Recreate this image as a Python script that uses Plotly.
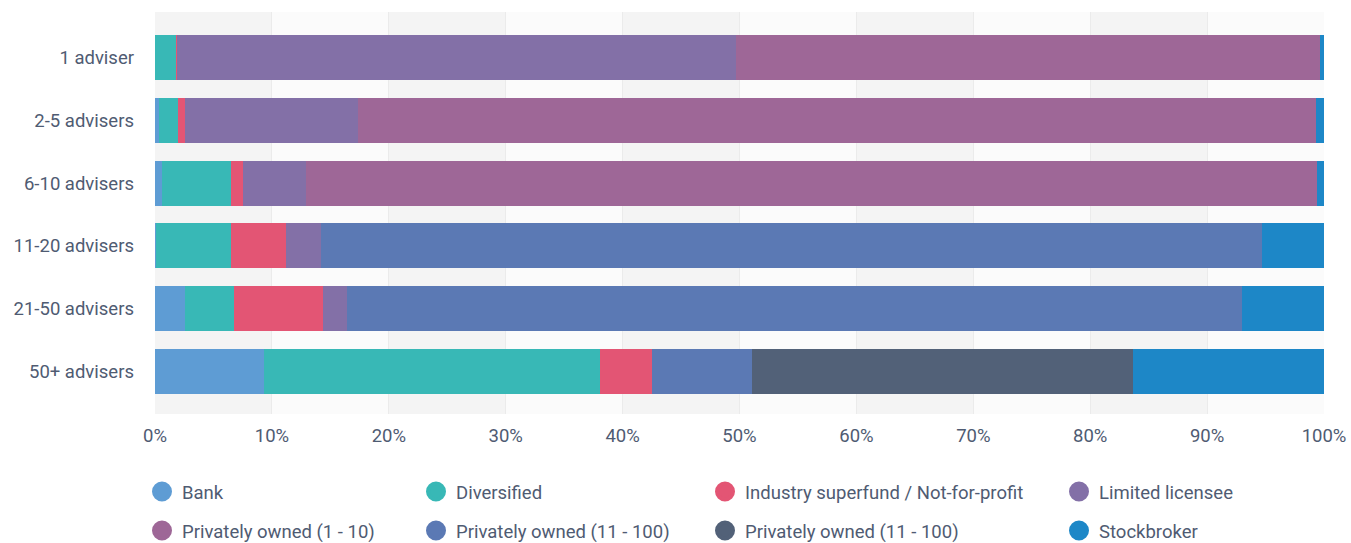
import plotly.graph_objects as go

categories = ["1 adviser", "2-5 advisers", "6-10 advisers", "11-20 advisers", "21-50 advisers", "50+ advisers"]

bank = [0.0, 0.3, 0.6, 0.1, 2.6, 9.3]
diversified = [1.8, 1.7, 5.9, 6.4, 4.2, 28.8]
industry = [0.1, 0.6, 1.0, 4.7, 7.6, 4.4]
limited = [47.8, 14.8, 5.4, 3.0, 2.0, 0.0]
po_1_10 = [50.0, 81.9, 86.5, 0.0, 0.0, 0.0]
po_11_100 = [0.0, 0.0, 0.0, 80.5, 76.6, 8.6]
po_11_100_b = [0.0, 0.0, 0.0, 0.0, 0.0, 32.6]
stockbroker = [0.3, 0.7, 0.6, 5.3, 7.0, 16.3]

series_names = ["Bank", "Diversified", "Industry superfund / Not-for-profit", "Limited licensee",
                "Privately owned (1 - 10)", "Privately owned (11 - 100)", "Privately owned (11 - 100)", "Stockbroker"]
series_values = [bank, diversified, industry, limited, po_1_10, po_11_100, po_11_100_b, stockbroker]
colors = ["#5e9cd4", "#38b8b6", "#e35574", "#8370a7", "#9e6797", "#5b79b4", "#526178", "#1d87c7"]

tick_vals = list(range(0, 101, 10))
tick_text = [f"{v}%" for v in tick_vals]

W, H = 1351, 543
ML, MR, MT, MB = 155, 27, 12, 129
plot_w = W - ML - MR
plot_h = H - MT - MB

TEXT = "#4f5b72"
FONT = "Roboto"
FS = 18.5

fig = go.Figure()
for name, vals, col in zip(series_names, series_values, colors):
    fig.add_trace(go.Bar(
        x=vals, y=categories, orientation="h", name=name,
        marker=dict(color=col, line=dict(width=0)),
        width=0.717, showlegend=False, hoverinfo="x+name",
    ))

# legend entries (circle markers), positioned in a 2x4 grid
legend_px = [(162, 492), (436, 492), (725, 492), (1079, 492),
             (162, 531), (436, 531), (725, 531), (1079, 531)]
layout_legends = {}
for i, (name, col) in enumerate(zip(series_names, colors)):
    lname = "legend" if i == 0 else f"legend{i+1}"
    fig.add_trace(go.Scatter(
        x=[None], y=[None], mode="markers", name=name, legend=lname,
        marker=dict(color=col, size=16, symbol="circle", line=dict(color=col, width=4)),
        showlegend=True, hoverinfo="skip",
    ))
    cx, cy = legend_px[i]
    layout_legends[lname] = dict(
        x=(cx - 20 - ML) / plot_w, y=(H - MB - cy) / plot_h,
        xanchor="left", yanchor="middle", orientation="v",
        bgcolor="rgba(0,0,0,0)", borderwidth=0,
        font=dict(family=FONT, size=FS, color=TEXT),
        itemclick=False, itemdoubleclick=False,
    )

shapes = []
for k in range(10):
    shapes.append(dict(
        type="rect", xref="x", yref="paper", x0=k * 10, x1=(k + 1) * 10, y0=0, y1=1,
        fillcolor="#f4f4f4" if k % 2 == 0 else "#fbfbfb", line=dict(width=0), layer="below",
    ))

pitch = 62.8
top_c, bot_c = 57.5, 371.5
y_top = 0 - (top_c - MT) / pitch
y_bot = 5 + (H - MB - bot_c) / pitch

fig.update_layout(
    width=W, height=H,
    margin=dict(l=ML, r=MR, t=MT, b=MB, autoexpand=False),
    paper_bgcolor="white", plot_bgcolor="#fbfbfb",
    barmode="stack", bargap=0.28,
    font=dict(family=FONT, size=FS, color=TEXT),
    shapes=shapes,
    xaxis=dict(range=[0, 100], tickvals=tick_vals, ticktext=tick_text,
               showgrid=True, gridcolor="#ebebeb", gridwidth=1, zeroline=False,
               showline=False, ticks="", ticklabelstandoff=8,
               tickfont=dict(family=FONT, size=FS, color=TEXT), fixedrange=True),
    yaxis=dict(type="category", categoryorder="array", categoryarray=categories,
               range=[y_bot, y_top], showgrid=False, zeroline=False, showline=False,
               ticks="", ticklabelstandoff=20,
               tickfont=dict(family=FONT, size=FS, color=TEXT), fixedrange=True),
    **layout_legends,
)

fig.write_html("out.html")
